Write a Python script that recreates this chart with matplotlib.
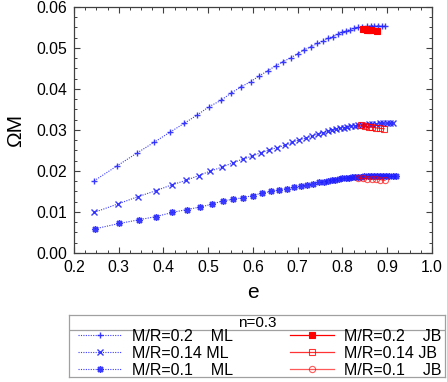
import matplotlib
matplotlib.use("Agg")
import matplotlib.pyplot as plt
from matplotlib.ticker import MultipleLocator

plt.rcParams['font.family'] = ['Liberation Sans', 'DejaVu Sans']

# ML curves (blue), e vs Omega*M
e_ml_02 = [0.245, 0.297, 0.341, 0.379, 0.415, 0.446, 0.476, 0.502, 0.528, 0.551, 0.573, 0.595,
           0.614, 0.634, 0.651, 0.668, 0.684, 0.700, 0.715, 0.730, 0.744, 0.756, 0.768, 0.779,
           0.789, 0.798, 0.807, 0.817, 0.826, 0.835, 0.844, 0.854, 0.863, 0.871, 0.880, 0.888, 0.895]
w_ml_02 = [0.0176, 0.0213, 0.0244, 0.0270, 0.0295, 0.0316, 0.0337, 0.0357, 0.0372, 0.0390, 0.0405, 0.0418,
           0.0432, 0.0445, 0.0457, 0.0467, 0.0476, 0.0486, 0.0496, 0.0503, 0.0511, 0.0517, 0.0524, 0.0528,
           0.0533, 0.0538, 0.0541, 0.0545, 0.0548, 0.0550, 0.0551, 0.0553, 0.0554, 0.0554, 0.0554, 0.0554, 0.0553]

e_ml_014 = [0.245, 0.299, 0.342, 0.383, 0.418, 0.450, 0.479, 0.505, 0.530, 0.555, 0.577, 0.598,
            0.618, 0.636, 0.654, 0.672, 0.688, 0.703, 0.718, 0.732, 0.745, 0.756, 0.767, 0.776,
            0.785, 0.794, 0.803, 0.811, 0.819, 0.827, 0.835, 0.843, 0.851, 0.859, 0.867, 0.875,
            0.883, 0.891, 0.899, 0.906, 0.913]
w_ml_014 = [0.0099, 0.0120, 0.0137, 0.0152, 0.0166, 0.0177, 0.0189, 0.0200, 0.0209, 0.0220, 0.0229, 0.0236,
            0.0245, 0.0251, 0.0257, 0.0263, 0.0270, 0.0276, 0.0280, 0.0285, 0.0290, 0.0293, 0.0298, 0.0300,
            0.0302, 0.0304, 0.0306, 0.0308, 0.0309, 0.0310, 0.0311, 0.0312, 0.0313, 0.0314, 0.0315, 0.0315,
            0.0316, 0.0316, 0.0316, 0.0316, 0.0316]

e_ml_01 = [0.247, 0.301, 0.345, 0.384, 0.420, 0.452, 0.482, 0.508, 0.532, 0.556, 0.578, 0.599,
           0.620, 0.640, 0.658, 0.675, 0.692, 0.707, 0.721, 0.735, 0.748, 0.759, 0.768, 0.776,
           0.784, 0.792, 0.800, 0.807, 0.814, 0.821, 0.828, 0.835, 0.842, 0.849, 0.856, 0.863,
           0.870, 0.877, 0.884, 0.891, 0.898, 0.905, 0.912, 0.919]
w_ml_01 = [0.0059, 0.0072, 0.0081, 0.0089, 0.0099, 0.0106, 0.0112, 0.0119, 0.0127, 0.0131, 0.0135, 0.0140,
           0.0146, 0.0150, 0.0154, 0.0157, 0.0160, 0.0163, 0.0166, 0.0169, 0.0172, 0.0174, 0.0176, 0.0178,
           0.0179, 0.0181, 0.0182, 0.0183, 0.0184, 0.0185, 0.0185, 0.0186, 0.0186, 0.0187, 0.0187, 0.0187,
           0.0187, 0.0187, 0.0188, 0.0188, 0.0188, 0.0187, 0.0187, 0.0187]

# JB points (red)
e_jb_02 = [0.845, 0.850, 0.855, 0.860, 0.864, 0.878]
w_jb_02 = [0.0546, 0.0546, 0.0545, 0.0545, 0.0544, 0.0542]
e_jb_014 = [0.841, 0.850, 0.859, 0.867, 0.876, 0.884, 0.893]
w_jb_014 = [0.0311, 0.0309, 0.0307, 0.0307, 0.0305, 0.0304, 0.0303]
e_jb_01 = [0.835, 0.845, 0.855, 0.865, 0.875, 0.884, 0.895]
w_jb_01 = [0.0183, 0.0182, 0.0181, 0.0180, 0.0180, 0.0179, 0.0177]

labels_ml = ["M/R=0.2    ML", "M/R=0.14 ML", "M/R=0.1    ML"]
labels_jb = ["M/R=0.2    JB", "M/R=0.14 JB", "M/R=0.1    JB"]

blue = "#1a1aff"
red = "#ff0000"

fig = plt.figure(figsize=(4.47, 3.82), dpi=100)
ax = fig.add_axes([0.1655, 0.3377, 0.8009, 0.644])

ml_style = dict(color=blue, linestyle=(0, (1, 1.2)), linewidth=0.8,
                markeredgewidth=1.0, alpha=0.85)
h1, = ax.plot(e_ml_02, w_ml_02, marker='+', markersize=5, label=labels_ml[0], **ml_style)
h2, = ax.plot(e_ml_014, w_ml_014, marker='x', markersize=4.2, label=labels_ml[1], **ml_style)
h3, = ax.plot(e_ml_01, w_ml_01, marker=(8, 2, 0), markersize=5, label=labels_ml[2], **ml_style)

jb_style = dict(color=red, linestyle='-', linewidth=0.9, markeredgewidth=0.8)
h4, = ax.plot(e_jb_02, w_jb_02, marker='s', markersize=5, label=labels_jb[0], **jb_style)
h5, = ax.plot(e_jb_014, w_jb_014, marker='s', markersize=4.5, markerfacecolor='none',
              label=labels_jb[1], alpha=0.8, **jb_style)
h6, = ax.plot(e_jb_01, w_jb_01, marker='o', markersize=4.5, markerfacecolor='none',
              label=labels_jb[2], alpha=0.65, **jb_style)

ax.set_xlim(0.2, 1.0)
ax.set_ylim(0.0, 0.06)
ax.xaxis.set_major_locator(MultipleLocator(0.1))
ax.xaxis.set_minor_locator(MultipleLocator(0.025))
ax.yaxis.set_major_locator(MultipleLocator(0.01))
ax.yaxis.set_minor_locator(MultipleLocator(0.0025))
ax.xaxis.set_major_formatter(plt.FuncFormatter(lambda v, p: f"{v:.1f}"))
ax.yaxis.set_major_formatter(plt.FuncFormatter(lambda v, p: f"{v:.2f}"))
ax.tick_params(which='both', direction='in', top=True, right=True, labelsize=11.3, color='#404040')
ax.tick_params(which='major', length=4.5, width=0.8, pad=5)
ax.tick_params(which='minor', length=2.5, width=0.7)
for s in ax.spines.values():
    s.set_color('#404040')
    s.set_linewidth(0.9)
ax.set_xlabel("e", fontsize=15, labelpad=6)
ax.set_ylabel("ΩM", fontsize=15, labelpad=8)

# legend panel
lax = fig.add_axes([0.1544, 0.0131, 0.8412, 0.1623])
lax.set_xticks([])
lax.set_yticks([])
for s in lax.spines.values():
    s.set_color('#a0a0a0')
    s.set_linewidth(0.9)
lax.set_xlim(0, 1)
lax.set_ylim(0, 1)
lax.axhline(0.758, color='#a0a0a0', linewidth=0.9)
lax.text(0.5, 0.87, "n=0.3", ha='center', va='center', fontsize=11)
lax.legend([h1, h2, h3, h4, h5, h6], labels_ml + labels_jb, ncol=2, loc='upper left',
           bbox_to_anchor=(0.024, 0.775), frameon=False, fontsize=11.5, handlelength=2.75,
           handletextpad=0.6, labelspacing=0.12, columnspacing=3.6, borderpad=0.0,
           borderaxespad=0.0)

fig.savefig("out.png", dpi=100)
